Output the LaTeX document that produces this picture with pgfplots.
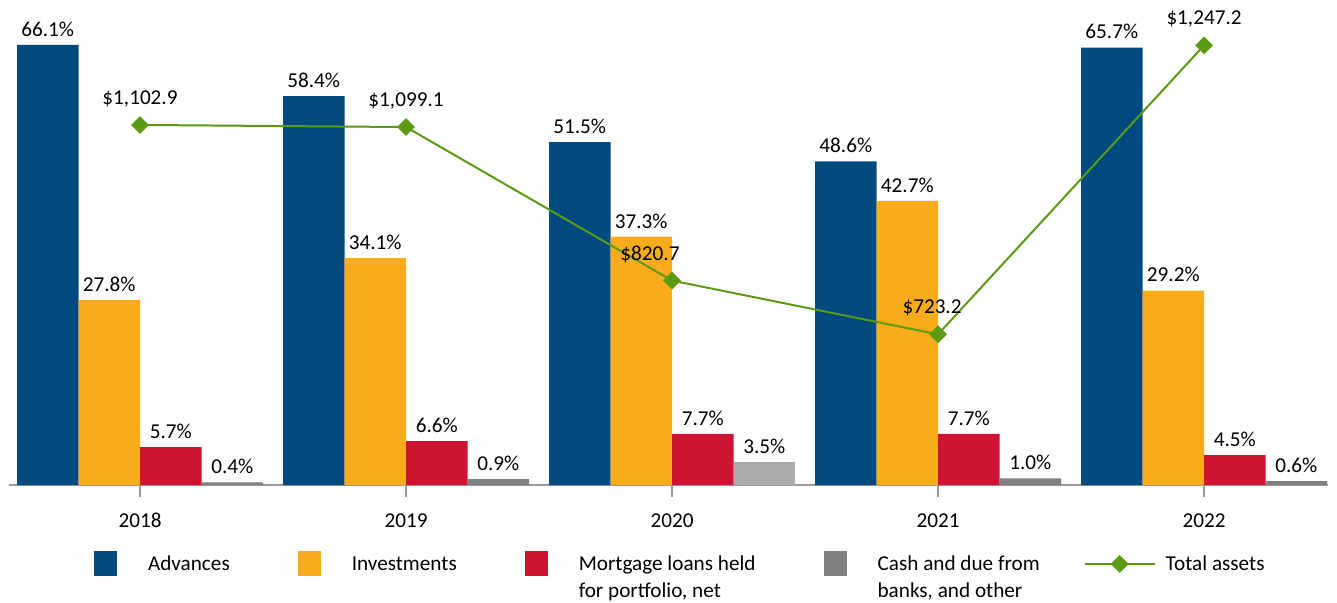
\documentclass[border=0pt]{standalone}
\usepackage{pgfplots}
\pgfplotsset{compat=1.18}
\usepackage{pgfplotstable}
\usepackage{fontspec}
\setmainfont{Carlito}
\definecolor{advblue}{HTML}{004A80}
\definecolor{invorange}{HTML}{F9AC1B}
\definecolor{mortred}{HTML}{CE1432}
\definecolor{cashgray}{HTML}{808080}
\definecolor{cashlight}{HTML}{ABABAB}
\definecolor{assetgreen}{HTML}{5B9A13}
\definecolor{axisgray}{HTML}{9A9A9A}
\pgfplotsset{
  boxleg/.style={legend image code/.code={%
    \fill[##1,draw=none] (0pt,-2.75pt) rectangle (11.5pt,9.75pt);
    \path[draw=none,fill=none] (0pt,3.5pt) -- (25pt,3.5pt);}},
  lineleg/.style={legend image code/.code={%
    \draw[##1,overlay,mark repeat=2,mark phase=2] plot coordinates {(-11.5pt,3.5pt) (6pt,3.5pt) (23.5pt,3.5pt)};
    \path[draw=none,fill=none] (0pt,3.5pt) -- (27pt,3.5pt);}},
}
\pgfplotstableread{
x adv inv mort
0 66.1 27.8 5.7
1 58.4 34.1 6.6
2 51.5 37.3 7.7
3 48.6 42.7 7.7
4 65.7 29.2 4.5
}\bars
\pgfplotstableread{
x y dx
0 1102.9 0
1 1099.1 0
2 820.7 -11
3 723.2 -3
4 1247.2 0
}\assets
\begin{document}
\fontsize{10.6pt}{13.5pt}\selectfont
\begin{tikzpicture}
\useasboundingbox (-4.5pt,-58.5pt) rectangle (664pt,242.5pt);
\begin{axis}[
  name=main, at={(0,0)}, anchor=south west,
  scale only axis, width=659.5pt, height=233pt,
  xmin=-0.4925, xmax=4.466, ymin=0, ymax=70,
  ybar=0pt, bar width=30.75pt,
  axis x line*=bottom, axis y line=none,
  x axis line style={-, axisgray, line width=1pt},
  xtick={0,1,2,3,4}, xticklabels={2018,2019,2020,2021,2022},
  tick align=outside, major tick length=6pt,
  x tick style={axisgray, line width=0.75pt},
  xticklabel style={yshift=-4.5pt},
  /pgf/number format/assume math mode=true,
  nodes near coords={\pgfmathprintnumber[fixed,fixed zerofill,precision=1]{\pgfplotspointmeta}\%},
  every node near coord/.append style={text=black, yshift=0.5pt},
  clip=false,
]
\addplot[fill=advblue, draw=none, bar shift=-46.125pt] table[x=x,y=adv] {\bars};
\addplot[fill=invorange, draw=none, bar shift=-15.375pt] table[x=x,y=inv] {\bars};
\addplot[fill=mortred, draw=none, bar shift=15.375pt] table[x=x,y=mort] {\bars};
\addplot[fill=cashgray, draw=none, bar shift=46.125pt] coordinates {(0,0.4) (1,0.9) (3,1.0) (4,0.6)};
\addplot[fill=cashlight, draw=none, bar shift=46.125pt] coordinates {(2,3.5)};
\end{axis}
\begin{axis}[
  at={(0,0)}, anchor=south west,
  scale only axis, width=659.5pt, height=233pt,
  xmin=-0.4925, xmax=4.466, ymin=450, ymax=1295,
  hide axis, clip=false,
  /pgf/number format/assume math mode=true,
  legend columns=5,
  legend style={at={(axis description cs:0,0)}, anchor=north west,
    xshift=42.5pt, yshift=-31.5pt, draw=none, fill=none,
    inner sep=0pt, outer sep=0pt, column sep=0pt, row sep=0pt,
    cells={inner sep=0pt, anchor=base west},
    /tikz/every even column/.append style={column sep=32pt}},
]
\addlegendimage{boxleg, fill=advblue}
\addlegendentry{Advances}
\addlegendimage{boxleg, fill=invorange}
\addlegendentry{Investments}
\addlegendimage{boxleg, fill=mortred}
\addlegendentry{\begin{tabular}[t]{@{}l@{}}Mortgage loans held\\for portfolio, net\end{tabular}}
\addlegendimage{boxleg, fill=cashgray}
\addlegendentry{\begin{tabular}[t]{@{}l@{}}Cash and due from\\banks, and other\end{tabular}}
\addplot[assetgreen, line width=1pt, mark=square*, mark size=2.65pt,
  mark options={rotate=45, fill=assetgreen, solid}, lineleg,
  nodes near coords={\$\pgfmathprintnumber[fixed,fixed zerofill,precision=1,1000 sep={,}]{\pgfplotspointmeta}},
  visualization depends on={\thisrow{dx}\as\dx},
  every node near coord/.append style={text=black, xshift=\dx pt, yshift=5pt}]
  table[x=x,y=y] {\assets};
\addlegendentry{Total assets}
\end{axis}
\end{tikzpicture}
\end{document}
